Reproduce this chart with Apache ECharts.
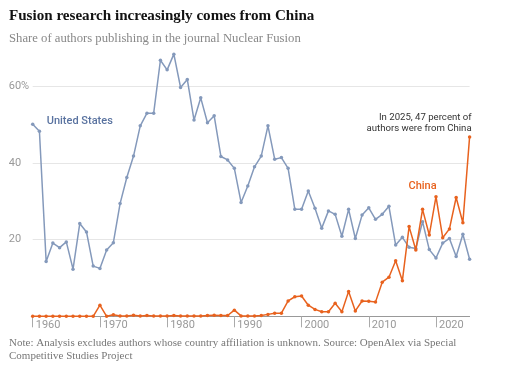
<!DOCTYPE html>
<html><head><meta charset="utf-8">
<script src="https://cdn.jsdelivr.net/npm/echarts@6/dist/echarts.min.js"></script>
<style>html,body{margin:0;padding:0;background:#fff}#c{width:513px;height:370px}</style>
</head><body><div id="c"></div>
<script>
const years = ['1960','1961','1962','1963','1964','1965','1966','1967','1968','1969',
  '1970','1971','1972','1973','1974','1975','1976','1977','1978','1979',
  '1980','1981','1982','1983','1984','1985','1986','1987','1988','1989',
  '1990','1991','1992','1993','1994','1995','1996','1997','1998','1999',
  '2000','2001','2002','2003','2004','2005','2006','2007','2008','2009',
  '2010','2011','2012','2013','2014','2015','2016','2017','2018','2019',
  '2020','2021','2022','2023','2024','2025'];
const usShare = [50.1,48.3,14.3,19.1,17.9,19.4,12.3,24.2,22.0,13.1,
  12.5,17.3,19.2,29.4,36.2,41.8,49.7,53.0,53.0,66.8,
  64.3,68.4,59.7,61.8,51.2,57.0,50.5,52.3,41.7,40.8,
  38.6,29.7,34.0,39.0,41.8,49.7,41.0,41.4,38.6,27.9,
  27.9,32.7,28.2,23.0,27.5,26.6,20.9,27.9,20.3,26.4,
  28.3,25.3,26.6,28.7,18.6,20.6,18.0,17.7,24.7,17.4,
  15.2,19.1,20.3,15.6,21.4,14.9];
const chinaShare = [0,0,0,0,0,0,0,0,0,0,
  2.9,0,0.4,0.1,0.1,0.3,0.1,0.2,0.1,0.1,
  0.1,0.2,0.1,0.1,0.1,0.1,0.2,0.3,0.2,0.2,
  1.6,0.1,0.1,0.1,0.2,0.5,0.8,0.8,4.0,5.1,
  5.3,2.9,1.8,1.2,1.2,3.4,1.2,6.5,1.4,4.0,
  3.9,3.7,8.9,10.2,14.5,9.3,23.4,17.3,27.9,21.2,
  31.2,20.5,22.8,31.0,24.4,46.8];
const xTickYears = ['1960','1970','1980','1990','2000','2010','2020'];
const yTickLabels = {20:'20', 40:'40', 60:'60%'};

const sans = 'Roboto, "Liberation Sans", sans-serif';
const serif = '"Liberation Serif", "DejaVu Serif", serif';
const usColor = '#8499bb';
const cnColor = '#e8621e';

const chart = echarts.init(document.getElementById('c'), null, {renderer:'canvas'});
chart.setOption({
  animation: false,
  backgroundColor: '#fff',
  title: [
    {text: 'Fusion research increasingly comes from China', left: 4, top: 4,
     textStyle: {fontFamily: serif, fontWeight: 'bold', fontSize: 15.1, color: '#121212'}},
    {text: 'Share of authors publishing in the journal Nuclear Fusion', left: 4, top: 27,
     textStyle: {fontFamily: serif, fontWeight: 'normal', fontSize: 12.7, color: '#888'}},
    {text: 'Note: Analysis excludes authors whose country affiliation is unknown. Source: OpenAlex via Special\nCompetitive Studies Project',
     left: 4, top: 332,
     textStyle: {fontFamily: serif, fontWeight: 'normal', fontSize: 11, lineHeight: 12.5, color: '#777'}}
  ],
  grid: {left: 32.7, right: 43.4, top: 48, bottom: 53.7},
  xAxis: {
    type: 'category', data: years, boundaryGap: false,
    axisLine: {lineStyle: {color: '#999', width: 1}},
    axisTick: {interval: (i, v) => xTickYears.includes(v), length: 11, lineStyle: {color: '#aaa'}},
    axisLabel: {interval: (i, v) => xTickYears.includes(v), align: 'left', margin: 3,
      padding: [0,0,0,3], color: '#999', fontSize: 11, fontFamily: sans}
  },
  yAxis: {
    type: 'value', min: 0, max: 70, interval: 20,
    axisLine: {show: false}, axisTick: {show: false},
    splitLine: {show: true, showMinLine: false, showMaxLine: false, lineStyle: {color: '#e6e6e6', width: 1}},
    axisLabel: {formatter: v => yTickLabels[v] || '', align: 'left', margin: 24,
      color: '#999', fontSize: 11, fontFamily: sans}
  },
  series: [
    {name: 'United States', type: 'line', data: usShare, z: 3,
     symbol: 'circle', symbolSize: 3.5, showSymbol: true,
     itemStyle: {color: usColor}, lineStyle: {color: usColor, width: 1.5},
     markPoint: {symbol: 'circle', symbolSize: 0, silent: true,
       data: [{coord: ['1967', 51], label: {show: true, position: 'inside', formatter: 'United States',
         color: '#5a73a0', fontSize: 11, fontWeight: 500, fontFamily: sans}}]}},
    {name: 'China', type: 'line', data: chinaShare, z: 4,
     symbol: 'circle', symbolSize: 3.5, showSymbol: true,
     itemStyle: {color: cnColor}, lineStyle: {color: cnColor, width: 1.5},
     markPoint: {symbol: 'circle', symbolSize: 0, silent: true,
       data: [
         {coord: ['2018', 34], label: {show: true, position: 'inside', formatter: 'China',
           color: cnColor, fontSize: 11, fontWeight: 500, fontFamily: sans}},
         {coord: ['2025', 50.4], label: {show: true, position: 'left', distance: -2, align: 'right',
           formatter: 'In 2025, 47 percent of\nauthors were from China', lineHeight: 11.5,
           color: '#333', fontSize: 9.6, fontFamily: sans}}
       ]}}
  ]
});
</script></body></html>
